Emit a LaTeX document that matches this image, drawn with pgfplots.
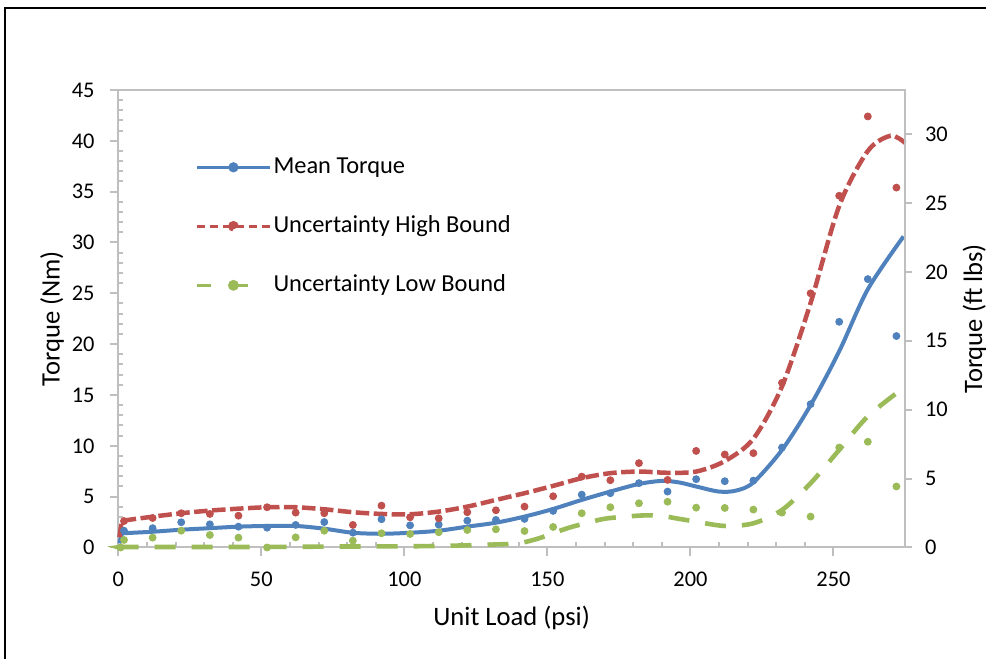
\documentclass[border=0pt]{standalone}
\usepackage{fontspec}
\setmainfont{Carlito}
\usepackage{pgfplots}
\pgfplotsset{compat=1.18}
\definecolor{cblue}{HTML}{4F81BD}
\definecolor{cred}{HTML}{C0504D}
\definecolor{cgreen}{HTML}{9BBB59}
\definecolor{caxis}{HTML}{BFBFBF}

% measured points (Nm)
\pgfplotstableread{
x mean high low
2 1.65 2.6 0.74
12 1.9 2.9 0.97
22 2.48 3.37 1.65
32 2.28 3.3 1.23
42 2.05 3.13 0.97
52 1.95 3.96 0.0
62 2.22 3.43 1.0
72 2.5 3.37 1.65
82 1.46 2.22 0.67
92 2.78 4.12 1.4
102 2.18 2.97 1.33
112 2.25 2.87 1.5
122 2.64 3.47 1.72
132 2.71 3.66 1.79
142 2.81 4.02 1.62
152 3.6 5.04 2.02
162 5.2 6.97 3.37
172 5.34 6.62 3.96
182 6.33 8.3 4.35
192 5.5 6.65 4.5
202 6.72 9.5 3.92
212 6.52 9.15 3.89
222 6.58 9.28 3.73
232 9.83 16.2 3.43
242 14.1 25.0 3.04
252 22.2 34.6 9.83
262 26.4 42.4 10.4
272 20.8 35.4 6.0
}\pts

\begin{document}
\begin{tikzpicture}
\useasboundingbox (0,0) rectangle (493pt,329.5pt);
\draw[line width=1pt] (2.5pt,-2pt) -- (2.5pt,325.5pt) -- (496pt,325.5pt);

\begin{axis}[
  at={(59.15pt,55.75pt)}, anchor=south west,
  scale only axis, width=393.35pt, height=228.75pt,
  xmin=0, xmax=275, ymin=0, ymax=45,
  xtick={0,50,...,250}, minor x tick num=4,
  ytick={0,5,...,45}, minor y tick num=4,
  axis line style={caxis, line width=1pt},
  tick style={caxis, line width=1pt},
  tick pos=left,
  tick align=outside, major tick length=4pt, minor tick length=2.5pt,
  minor x tick style={yshift=2.5pt},
  minor y tick style={xshift=2.5pt},
  /pgf/number format/assume math mode=true,
  tick label style={font=\fontsize{11.2}{13}\selectfont, black, inner sep=0pt},
  xticklabel style={anchor=center, yshift=-11.75pt},
  yticklabel style={anchor=east, xshift=-7.65pt},
  xlabel={Unit Load (psi)}, ylabel={Torque (Nm)},
  label style={font=\fontsize{13.3}{16}\selectfont},
  xlabel style={at={(axis description cs:0.5,-0.154)}, anchor=center},
  ylabel style={at={(axis description cs:-0.0843,0.5)}, anchor=center},
  legend style={draw=none, fill=none, at={(axis description cs:0.0898,0.869)}, anchor=north west,
    font=\fontsize{12.2}{14}\selectfont, row sep=16.5pt,
    nodes={inner sep=1pt, text height=8.5pt, text depth=2.5pt}},
  legend cell align=left,
  clip=false,
]
% trendlines
\addplot[cblue, line width=2pt, smooth, tension=0.5,
  legend image code/.code={\draw[cblue, line width=1.6pt] (0pt,0pt) -- (36.5pt,0pt);
    \fill[cblue] (18.25pt,0pt) circle (1.5pt);}]
coordinates {(0.4,0.4) (1.2,1.3) (2,1.4) (12,1.55) (22,1.75) (32,1.9) (42,2.05) (52,2.12) (62,2.12)
 (72,1.85) (82,1.45) (92,1.35) (102,1.45) (112,1.65) (122,2.05) (132,2.44) (142,3.04) (152,3.79)
 (162,4.68) (172,5.5) (182,6.25) (190,6.55) (196,6.4) (202,6.0) (210,5.5) (216,5.6) (222,6.4)
 (232,9.6) (242,14.0) (252,19.3) (262,25.4) (274.5,30.6)};
\addlegendentry{Mean Torque}
\addplot[cred, line width=2.25pt, dash pattern=on 6.75pt off 2.25pt, smooth, tension=0.5,
  legend image code/.code={\draw[cred, line width=1.6pt, dash pattern=on 4pt off 2.5pt] (0pt,0pt) -- (36.5pt,0pt);
    \fill[cred] (18.25pt,0pt) circle (1.5pt);}]
coordinates {(0.4,1.0) (1.2,2.5) (2,2.65) (12,3.03) (22,3.37) (32,3.63) (42,3.82) (52,3.96) (62,3.96)
 (72,3.76) (82,3.47) (92,3.3) (102,3.27) (112,3.53) (122,4.02) (132,4.68) (142,5.34) (152,6.06)
 (162,6.82) (172,7.31) (182,7.47) (192,7.35) (202,7.47) (212,8.5) (222,10.7) (232,15.84)
 (242,24.06) (252,33.6) (262,39.0) (270,40.5) (275,39.8)};
\addlegendentry{Uncertainty High Bound}
\addplot[cgreen, line width=2.3pt, dash pattern=on 10.5pt off 8pt, smooth, tension=0.5,
  legend image code/.code={\draw[cgreen, line width=1.6pt, dash pattern=on 7pt off 11.5pt] (0pt,0pt) -- (36.5pt,0pt);
    \fill[cgreen] (18.25pt,0pt) circle (1.5pt);}]
coordinates {(0.3,0) (2,0.05) (22,0.05) (42,0.05) (62,0.07) (82,0.1) (102,0.12) (117,0.18) (132,0.3)
 (140,0.42) (147,0.9) (157,1.9) (165,2.5) (171,2.87) (183,3.15) (190,3.1) (195,2.87) (202,2.54)
 (212,2.12) (222,2.38) (232,3.69) (242,6.32) (252,9.6) (262,12.9) (274.5,15.7)};
\addlegendentry{Uncertainty Low Bound}
% measured points
\addplot[only marks, mark=*, mark size=1.75pt, cblue, forget plot] table[x=x, y=mean] {\pts};
\addplot[only marks, mark=*, mark size=1.75pt, cred, forget plot] table[x=x, y=high] {\pts};
\addplot[only marks, mark=*, mark size=1.75pt, cgreen, forget plot] table[x=x, y=low] {\pts};
\addplot[only marks, mark=*, mark size=1.75pt, cgreen, forget plot] coordinates {(0.8,0)};
% plot area top edge
\draw[caxis, line width=1pt] (rel axis cs:0,1) -- (rel axis cs:1,1);
\end{axis}

\begin{axis}[
  at={(59.15pt,55.75pt)}, anchor=south west,
  scale only axis, width=393.35pt, height=228.75pt,
  xmin=0, xmax=275, ymin=0, ymax=33.19,
  axis x line=none, axis y line*=right,
  ytick={0,5,...,30}, minor y tick num=0,
  axis line style={caxis, line width=1pt},
  tick style={caxis, line width=1pt},
  tick align=outside, major tick length=3.3pt,
  /pgf/number format/assume math mode=true,
  tick label style={font=\fontsize{11.2}{13}\selectfont, black, inner sep=0pt},
  yticklabel style={anchor=west, xshift=6.5pt},
  ylabel={Torque (ft lbs)},
  label style={font=\fontsize{13.3}{16}\selectfont},
  ylabel style={at={(axis description cs:1.0885,0.5)}, anchor=center},
]
\end{axis}
\end{tikzpicture}
\end{document}
